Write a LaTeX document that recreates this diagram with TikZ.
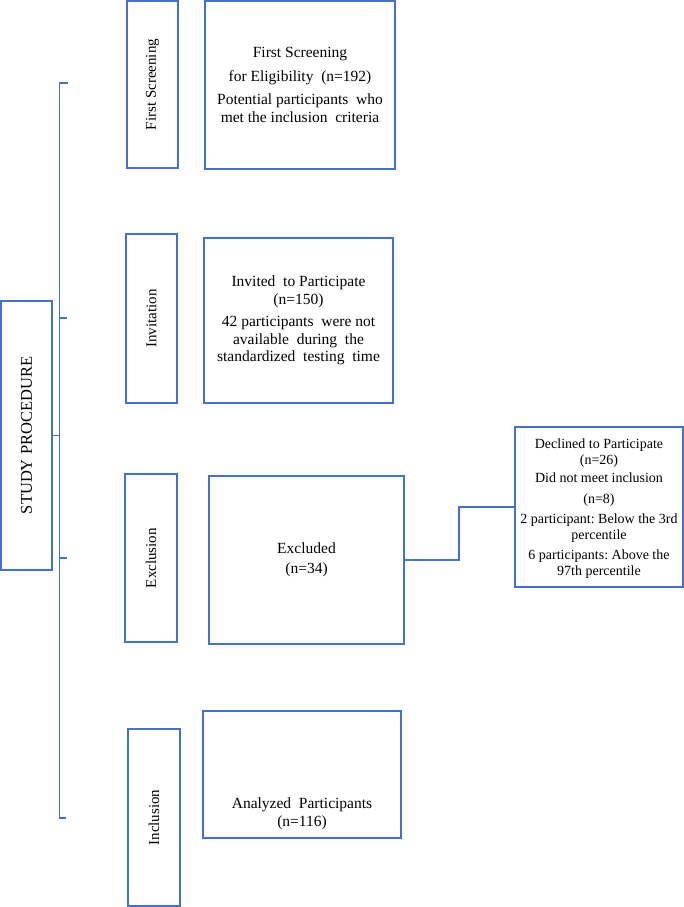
\documentclass[tikz,border=0pt]{standalone}
\usepackage{fontspec}
\setmainfont{Liberation Serif}
\definecolor{wordblue}{HTML}{4472C4}
\begin{document}
\begin{tikzpicture}[x=1pt,y=-1pt,
  box/.style={draw=wordblue,line width=1.6pt,inner sep=0pt},
  lbl/.style={rotate=90,font=\fontsize{15}{17}\selectfont},
  body/.style={align=center,font=\fontsize{15.5}{17.5}\selectfont},
  small/.style={align=center,font=\fontsize{14}{15.5}\selectfont},
  link/.style={draw=wordblue,line width=1.6pt}]
\useasboundingbox (0,0) rectangle (684,907);
% study procedure
\node[box,minimum width=51pt,minimum height=269pt] (study) at (26.5,435.5) {};
\node[lbl,font=\fontsize{16.5}{18}\selectfont] at (study.center) {STUDY PROCEDURE};
% label boxes
\node[box,minimum width=51pt,minimum height=167pt] (fsL) at (152.5,84.5) {};
\node[lbl] at (fsL.center) {First Screening};
\node[box,minimum width=51pt,minimum height=169pt] (invL) at (151.5,318.5) {};
\node[lbl] at (invL.center) {Invitation};
\node[box,minimum width=52pt,minimum height=168pt] (excL) at (151,558) {};
\node[lbl] at (excL.center) {Exclusion};
\node[box,minimum width=52pt,minimum height=177pt] (incL) at (154,817.5) {};
\node[lbl] at (incL.center) {Inclusion};
% content boxes
\node[box,minimum width=190pt,minimum height=168pt] (fsC) at (300,85) {};
\node[body] at (fsC.center) {First Screening\\[6pt] for Eligibility\ \ (n=192)\\[6pt] Potential\ participants\ \ who\\ met the\ inclusion\ \ criteria};
\node[box,minimum width=189pt,minimum height=165pt] (invC) at (298.5,320.5) {};
\node[body] at (invC.center) {Invited\ \ to Participate\\ (n=150)\\[5pt] 42 participants\ \ were not\\ available\ \ during\ \ the\\ standardized\ \ testing\ \ time};
\node[box,minimum width=195pt,minimum height=168pt] (excC) at (306.5,560) {};
\node[body] at (excC.center) {Excluded\\[2pt] (n=34)};
\node[box,minimum width=198pt,minimum height=127pt] (incC) at (302,774.5) {};
\node[body] at (302,814) {Analyzed\ \ Participants\\ (n=116)};
% right box
\node[box,minimum width=168pt,minimum height=160pt] (right) at (599,507) {};
\node[small] at (599,508.5) {Declined to Participate\\ (n=26)\\[3pt] Did not meet inclusion\\[5pt] (n=8)\\[5pt] 2 participant:\ Below\ the 3rd\\ percentile\\[5pt] 6 participants:\ Above the\\ 97th percentile};
% bracket
\coordinate (bj) at (59.5,435.5);
\coordinate (bt) at (59.5,83);
\coordinate (bb) at (59.5,818);
\coordinate (t1) at (68,83);
\coordinate (t2a) at (59.5,318);
\coordinate (t2) at (67,318);
\coordinate (t3a) at (59.5,558);
\coordinate (t3) at (67,558);
\coordinate (t4) at (66,818);
\draw[link] (study.east) -- (bj);
\draw[link] (t1) -- (bt) -- (bb) -- (t4);
\draw[link] (t2a) -- (t2);
\draw[link] (t3a) -- (t3);
% connector excluded -> right box
\coordinate (k1) at (459,560);
\coordinate (k2) at (459,507);
\draw[link] (excC.east) -- (k1) -- (k2) -- (right.west);
\end{tikzpicture}
\end{document}
